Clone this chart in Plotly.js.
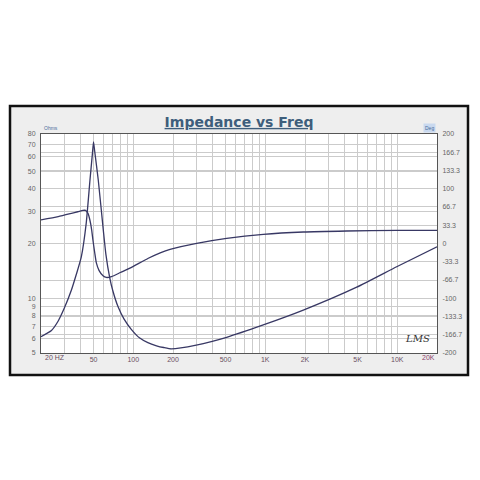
<!DOCTYPE html>
<html>
<head>
<meta charset="utf-8">
<script src="https://cdn.plot.ly/plotly-3.0.1.min.js"></script>
<style>html,body{margin:0;padding:0;background:#fff;}#chart{width:480px;height:480px;}</style>
</head>
<body>
<div id="chart"></div>
<script>
// Impedance magnitude (Ohms, left log axis)
const freqZ = [20, 24, 27, 30, 34, 37, 40.4, 44, 47, 49, 50, 51, 54.3, 59.3, 62, 66.3, 70, 76.6, 85, 96.6, 112, 129, 150, 170, 195, 300, 510, 966, 1942, 4930, 9900, 20000];
const ohms  = [6.15, 6.65, 7.5, 8.8, 11.1, 13.5, 16.9, 25.8, 44.7, 62, 72.5, 64.5, 44.7, 23.7, 17.5, 13.0, 11.0, 9.0, 7.7, 6.75, 6.04, 5.7, 5.48, 5.36, 5.27, 5.53, 6.1, 7.13, 8.6, 11.5, 14.9, 19.2];
// Phase (degrees, right linear axis)
const freqP = [20, 27, 34, 38, 41.6, 43.5, 45.4, 47, 48.4, 49.5, 51, 52.6, 55, 59, 62.5, 68.4, 80, 94.3, 130, 160, 190, 302, 510, 966, 1942, 4140, 9900, 20000];
const phase = [43, 49, 55, 58, 60.5, 60.5, 55, 42, 25, 6, -16, -36, -49, -59, -62, -60.5, -53, -45, -27, -17, -10.6, 0.4, 9.5, 16.8, 21, 22.8, 24, 24];
// Tick labels
const freqTicks  = [20, 50, 100, 200, 500, 1000, 2000, 5000, 10000, 20000];
const freqLabels = ['20 HZ', '50', '100', '200', '500', '1K', '2K', '5K', '10K', '20K'];
const ohmTicks   = [5, 6, 7, 8, 9, 10, 20, 30, 40, 50, 60, 70, 80];
const ohmLabels  = ['5', '6', '7', '8', '9', '10', '20', '30', '40', '50', '60', '70', '80'];
const degTicks   = [-200, -166.7, -133.3, -100, -66.7, -33.3, 0, 33.3, 66.7, 100, 133.3, 166.7, 200];
const degLabels  = ['-200', '-166.7', '-133.3', '-100', '-66.7', '-33.3', '0', '33.3', '66.7', '100', '133.3', '166.7', '200'];

const minorX = [];
[10, 100, 1000, 10000].forEach(d => { for (let k = 1; k <= 9; k++) { const v = k * d; if (v >= 20 && v <= 20000) minorX.push(v); } });

const curveColor = '#383864';
const gridColor = '#cbcbcb';
const tickFont = {family: 'Liberation Sans, Arial, sans-serif', size: 7, color: '#666'};

const traces = [
  {x: freqZ, y: ohms, type: 'scatter', mode: 'lines', line: {color: curveColor, width: 1.3, shape: 'spline', smoothing: 0.5}, xaxis: 'x', yaxis: 'y', hoverinfo: 'skip'},
  {x: freqP, y: phase, type: 'scatter', mode: 'lines', line: {color: curveColor, width: 1.3, shape: 'spline', smoothing: 0.6}, xaxis: 'x', yaxis: 'y2', hoverinfo: 'skip'}
];

// pixel helpers for paper coords (plot area 41..437 x, 134..353 y)
const px = p => (p - 41) / 396;
const py = p => (353 - p) / 219;

const inner = freqTicks.slice(1, -1), innerLab = freqLabels.slice(1, -1);

const layout = {
  width: 480, height: 480,
  margin: {l: 41, r: 43, t: 134, b: 127, pad: 0},
  paper_bgcolor: '#ffffff',
  plot_bgcolor: '#ffffff',
  showlegend: false,
  title: {text: '<b><u>Impedance vs Freq</u></b>', x: 0.5, xref: 'paper', xanchor: 'center', y: 1 - 122/480, yref: 'container', yanchor: 'middle',
          font: {family: 'DejaVu Sans, Verdana, sans-serif', size: 14, color: '#3e5e7c'}},
  xaxis: {type: 'log', range: [Math.log10(20), Math.log10(20000)], tickmode: 'array', tickvals: inner, ticktext: innerLab,
          tickfont: {family: 'Liberation Sans, Arial, sans-serif', size: 7, color: '#6b4f62'}, ticks: '', ticklen: 0,
          showgrid: true, gridcolor: gridColor, gridwidth: 1,
          minor: {tickvals: minorX, showgrid: true, gridcolor: gridColor, gridwidth: 1, ticks: ''},
          showline: true, linecolor: '#555', linewidth: 1, mirror: true, zeroline: false, fixedrange: true},
  yaxis: {type: 'log', range: [Math.log10(5), Math.log10(80)], tickmode: 'array', tickvals: ohmTicks, ticktext: ohmLabels,
          tickfont: tickFont, ticks: '', ticklabelstandoff: 3, showgrid: true, gridcolor: gridColor, gridwidth: 1,
          showline: true, linecolor: '#555', linewidth: 1, mirror: true, zeroline: false, fixedrange: true},
  yaxis2: {overlaying: 'y', side: 'right', range: [-200, 200], tickmode: 'array', tickvals: degTicks, ticktext: degLabels,
          tickfont: tickFont, ticks: '', ticklabelstandoff: 3, showgrid: true, gridcolor: gridColor, gridwidth: 1,
          showline: true, linecolor: '#555', linewidth: 1, zeroline: false, fixedrange: true},
  shapes: [
    {type: 'rect', xref: 'paper', yref: 'paper', x0: px(10), x1: px(468), y0: py(375), y1: py(106),
     fillcolor: '#eeeeee', line: {color: '#111', width: 2.5}, layer: 'below'},
    {type: 'rect', xref: 'paper', yref: 'paper', x0: 0, x1: 1, y0: 0, y1: 1,
     fillcolor: '#ffffff', line: {width: 0}, layer: 'below'}
  ],
  annotations: [
    {xref: 'paper', yref: 'paper', x: px(43), y: py(352), xanchor: 'left', yanchor: 'top', text: freqLabels[0], showarrow: false,
     font: {family: 'Liberation Sans, Arial, sans-serif', size: 7, color: '#6b4f62'}},
    {xref: 'paper', yref: 'paper', x: px(437), y: py(352), xanchor: 'right', yanchor: 'top', text: freqLabels[freqLabels.length - 1], showarrow: false,
     font: {family: 'Liberation Sans, Arial, sans-serif', size: 7, color: '#8a3f6a'}},
    {xref: 'paper', yref: 'paper', x: px(42), y: py(133), xanchor: 'left', yanchor: 'bottom', text: 'Ohms', showarrow: false,
     font: {family: 'Liberation Sans, Arial, sans-serif', size: 5, color: '#4a6c9c'}},
    {xref: 'paper', yref: 'paper', x: px(436), y: py(133), xanchor: 'right', yanchor: 'bottom', text: 'Deg', showarrow: false,
     bgcolor: '#c9d9ef', font: {family: 'Liberation Sans, Arial, sans-serif', size: 5, color: '#4a6c9c'}},
    {xref: 'paper', yref: 'paper', x: px(432), y: py(338), xanchor: 'right', yanchor: 'middle', text: '<i>LMS</i>', showarrow: false,
     font: {family: 'DejaVu Serif, serif', size: 10, color: '#333'}}
  ]
};

Plotly.newPlot('chart', traces, layout, {staticPlot: true, displayModeBar: false});
</script>
</body>
</html>
